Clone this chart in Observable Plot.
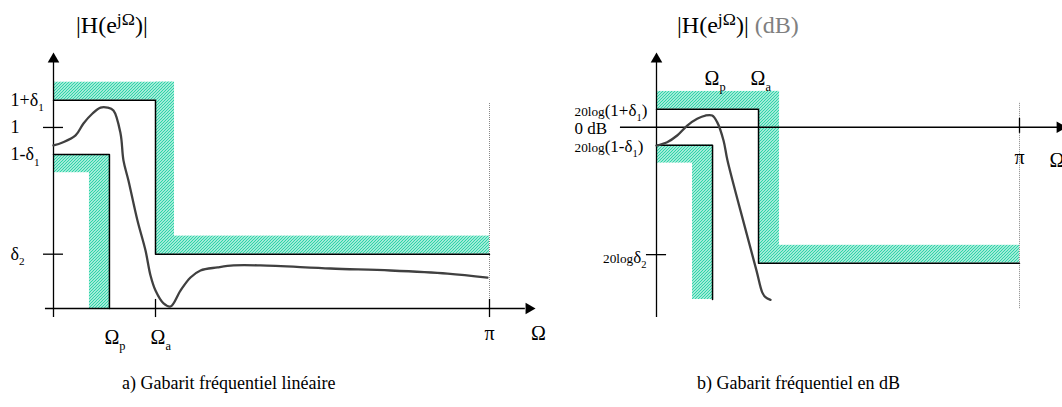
<!DOCTYPE html>
<html><head><meta charset="utf-8">
<script src="https://cdn.jsdelivr.net/npm/d3@7"></script>
<script src="https://cdn.jsdelivr.net/npm/@observablehq/plot@0.6"></script>
<style>
body{margin:0;background:#fff;font-family:"Liberation Serif","Times New Roman",Times,serif;color:#000}
#page{position:relative;width:1062px;height:407px;overflow:hidden}
.title{position:absolute;top:13px;font-size:24px;line-height:24px;white-space:nowrap}
.title sup{font-size:0.74em;line-height:0;vertical-align:0.45em}
.cap{position:absolute;top:372px;font-size:18px;line-height:22px;white-space:nowrap}
.plot{position:absolute;top:40px}
</style></head>
<body><div id="page">
<svg width="0" height="0" style="position:absolute;left:0;top:0"><defs>
<pattern id="hatch" patternUnits="userSpaceOnUse" width="3" height="3">
<rect width="3" height="3" fill="#ffffff"/>
<path d="M-1,1L1,-1M0,3L3,0M2,4L4,2" stroke="#2fd4a8" stroke-width="1.3"/>
</pattern></defs></svg>
<div class="title" style="left:76px">|H(e<sup>jΩ</sup>)|</div>
<div class="title" style="left:677px">|H(e<sup>jΩ</sup>)| <span style="color:#808080">(dB)</span></div>
<div id="left" class="plot" style="left:0"></div>
<div id="right" class="plot" style="left:531px"></div>
<div class="cap" style="left:122px">a) Gabarit fréquentiel linéaire</div>
<div class="cap" style="left:697px">b) Gabarit fréquentiel en dB</div>
</div>
<script>
const PI = Math.PI;

// ---------- (a) linear template ----------
const linOmegaP = 0.403, linOmegaA = 0.735;
const linUpper = 1.15, linOne = 1, linLower = 0.85, linStop = 0.3;
const linBandY = 0.1, linBandXa = 0.137, linBandXp = 0.144;
const linTickValues = [linUpper, linOne, linLower, linStop];
const linTickLabels = ["1+δ_1", "1", "1-δ_1", "δ_2"];
const linCurveOmega = [0, 0.065, 0.159, 0.216, 0.281, 0.339, 0.389, 0.432, 0.483, 0.504, 0.540, 0.605, 0.663, 0.699, 0.735, 0.793, 0.843, 0.915, 0.987, 1.059, 1.182, 1.297, 1.491, 1.996, 2.428, 2.839, 3.127];
const linCurveMag   = [0.901, 0.917, 0.956, 1.022, 1.077, 1.110, 1.110, 1.094, 0.967, 0.818, 0.707, 0.486, 0.320, 0.182, 0.099, 0.028, 0.011, 0.099, 0.171, 0.210, 0.227, 0.238, 0.238, 0.221, 0.210, 0.193, 0.171];
const linYTop = 1.414;

// ---------- (b) dB template ----------
const dbOmegaP = 0.485, dbOmegaA = 0.883;
const dbUpper = 5.3, dbZero = 0, dbLower = -5.3, dbStop = -40, dbStopTick = -37.5, dbFloor = -50.7;
const dbBandY = 5.25, dbBandXa = 0.182, dbBandXp = 0.173;
const dbTickValues = [dbUpper, dbZero, dbLower];
const dbTickLabels = ["{20log}(1+δ_1)", "0 dB", "{20log}(1-δ_1)"];
const dbCurveOmega = [0, 0.092, 0.179, 0.266, 0.352, 0.424, 0.482, 0.525, 0.580, 0.6145, 0.765, 0.8655, 0.915, 0.943, 0.987];
const dbCurveGain  = [-5.38, -4.4, -2.43, 0.5, 2.5, 3.45, 3.45, 1.5, -3.9, -9.8, -29.4, -42.2, -48.6, -50.0, -50.8];
const dbYDomain = [-56, 22];

const font = "Liberation Serif, Times New Roman, Times, serif";
const zip = (xs, ys) => xs.map((x, i) => ({x, y: ys[i]}));

function arrowUp(y, x0) {
  return Plot.dot([0], {x: x0, y, symbol: "triangle", r: 4.3, fill: "#000", stroke: "none", dy: 6.6});
}
function arrowRight(x, y0) {
  return Plot.dot([0], {x, y: y0, symbol: "triangle", r: 4.3, fill: "#000", stroke: "none", rotate: 90, dx: -6.6});
}

// ---------- left plot ----------
const linHatch = [
  {x1: 0, x2: linOmegaA + linBandXa, y1: linUpper, y2: linUpper + linBandY},
  {x1: linOmegaA, x2: linOmegaA + linBandXa, y1: linStop, y2: linUpper + linBandY},
  {x1: linOmegaA, x2: PI, y1: linStop, y2: linStop + linBandY},
  {x1: 0, x2: linOmegaP, y1: linLower - linBandY, y2: linLower},
  {x1: linOmegaP - linBandXp, x2: linOmegaP, y1: 0, y2: linLower}
];
const linUpperPath = zip([0, linOmegaA, linOmegaA, PI], [linUpper, linUpper, linStop, linStop]);
const linLowerPath = zip([0, linOmegaP, linOmegaP], [linLower, linLower, 0]);

const left = Plot.plot({
  width: 531, height: 325,
  marginLeft: 53, marginRight: 42, marginTop: 12, marginBottom: 57,
  x: {domain: [0, PI], axis: null},
  y: {domain: [0, linYTop], axis: null},
  style: {fontFamily: font, overflow: "visible", background: "transparent", color: "#000"},
  marks: [
    Plot.rect(linHatch, {x1: "x1", x2: "x2", y1: "y1", y2: "y2", fill: "url(#hatch)"}),
    Plot.ruleX([PI], {y1: 0, y2: 1.138, stroke: "#888", strokeWidth: 1, strokeDasharray: "1,1"}),
    Plot.line(linUpperPath, {x: "x", y: "y", stroke: "#000", strokeWidth: 1.5}),
    Plot.line(linLowerPath, {x: "x", y: "y", stroke: "#000", strokeWidth: 1.5}),
    Plot.ruleY([0], {x1: -0.058, x2: 3.40, stroke: "#000", strokeWidth: 1.3}),
    Plot.ruleX([0], {y1: -0.05, y2: 1.36, stroke: "#000", strokeWidth: 1.3}),
    arrowUp(linYTop, 0),
    arrowRight(3.473, 0),
    Plot.ruleY([linOne, linStop], {x1: -0.072, x2: 0.072, stroke: "#000", strokeWidth: 1.3}),
    Plot.ruleX([linOmegaA, PI], {y1: -0.05, y2: 0.05, stroke: "#000", strokeWidth: 1.3}),
    Plot.line(zip(linCurveOmega, linCurveMag), {x: "x", y: "y", curve: "catmull-rom", stroke: "#404040", strokeWidth: 2.3}),
    Plot.text(linTickValues, {x: 0, y: d => d, text: (d, i) => linTickLabels[i], textAnchor: "start", dx: -43, fontSize: 18, fill: "#000"}),
    Plot.text([linOmegaP, linOmegaA], {x: d => d, y: 0, text: ["Ω_p", "Ω_a"], textAnchor: "start", dx: -5, dy: 29, fontSize: 20, fill: "#000"}),
    Plot.text([PI], {x: d => d, y: 0, text: ["π"], dy: 25, fontSize: 20, fill: "#000"}),
    Plot.text([PI], {x: d => d, y: 0, text: ["Ω"], dx: 49, dy: 25, fontSize: 20, fill: "#000"})
  ]
});

// ---------- right plot ----------
const dbHatch = [
  {x1: 0, x2: dbOmegaA + dbBandXa, y1: dbUpper, y2: dbUpper + dbBandY},
  {x1: dbOmegaA, x2: dbOmegaA + dbBandXa, y1: dbStop, y2: dbUpper + dbBandY},
  {x1: dbOmegaA, x2: PI, y1: dbStop, y2: dbStop + dbBandY},
  {x1: 0, x2: dbOmegaP, y1: dbLower - dbBandY, y2: dbLower},
  {x1: dbOmegaP - dbBandXp, x2: dbOmegaP, y1: dbFloor, y2: dbLower}
];
const dbUpperPath = zip([0, dbOmegaA, dbOmegaA, PI], [dbUpper, dbUpper, dbStop, dbStop]);
const dbLowerPath = zip([0, dbOmegaP, dbOmegaP], [dbLower, dbLower, dbFloor]);

const right = Plot.plot({
  width: 531, height: 325,
  marginLeft: 125, marginRight: 43, marginTop: 12, marginBottom: 48,
  x: {domain: [0, PI], axis: null},
  y: {domain: dbYDomain, axis: null},
  style: {fontFamily: font, overflow: "visible", background: "transparent", color: "#000"},
  marks: [
    Plot.rect(dbHatch, {x1: "x1", x2: "x2", y1: "y1", y2: "y2", fill: "url(#hatch)"}),
    Plot.ruleX([PI], {y1: -53.4, y2: 7.3, stroke: "#888", strokeWidth: 1, strokeDasharray: "1,1"}),
    Plot.line(dbUpperPath, {x: "x", y: "y", stroke: "#000", strokeWidth: 1.5}),
    Plot.line(dbLowerPath, {x: "x", y: "y", stroke: "#000", strokeWidth: 1.5}),
    Plot.ruleY([dbZero], {x1: -0.312, x2: 3.50, stroke: "#000", strokeWidth: 1.3}),
    Plot.ruleX([0], {y1: dbYDomain[0], y2: 20, stroke: "#000", strokeWidth: 1.3}),
    arrowUp(dbYDomain[1], 0),
    arrowRight(3.549, dbZero),
    Plot.ruleY([dbStopTick], {x1: -0.087, x2: 0.087, stroke: "#000", strokeWidth: 1.3}),
    Plot.ruleX([PI], {y1: -1.8, y2: 2.6, stroke: "#000", strokeWidth: 1.3}),
    Plot.line(zip(dbCurveOmega, dbCurveGain), {x: "x", y: "y", curve: "catmull-rom", stroke: "#404040", strokeWidth: 2.3}),
    Plot.text(dbTickValues, {x: 0, y: d => d, text: (d, i) => dbTickLabels[i], textAnchor: "start", dx: -82, dy: 1, fontSize: 17, fill: "#000"}),
    Plot.text([dbStopTick], {x: 0, y: d => d, text: ["{20log}δ_2"], textAnchor: "end", dx: -10, dy: 3, fontSize: 17, fill: "#000"}),
    Plot.text([dbOmegaP, dbOmegaA], {x: d => d, y: dbUpper + dbBandY, text: ["Ω_p", "Ω_a"], textAnchor: "start", dx: -8, dy: -13, fontSize: 20, fill: "#000"}),
    Plot.text([PI], {x: d => d, y: dbZero, text: ["π"], dy: 30, fontSize: 20, fill: "#000"}),
    Plot.text([PI], {x: d => d, y: dbZero, text: ["Ω"], textAnchor: "start", dx: 30, dy: 33, fontSize: 20, fill: "#000"})
  ]
});

document.getElementById("left").appendChild(left);
document.getElementById("right").appendChild(right);

// rich text: _c = subscript char, {..} = smaller run
function richify(root) {
  root.querySelectorAll("text").forEach(t => {
    const s = t.textContent;
    if (!/[_{]/.test(s)) return;
    const fs = parseFloat(getComputedStyle(t).fontSize) || 16;
    while (t.firstChild) t.removeChild(t.firstChild);
    let shift = 0;
    const re = /_(.)|\{([^}]*)\}|([^_{]+)/g;
    let m;
    while ((m = re.exec(s))) {
      const sp = document.createElementNS("http://www.w3.org/2000/svg", "tspan");
      let target = 0, size = null;
      if (m[1]) { sp.textContent = m[1]; size = fs * 0.62; target = fs * 0.3; }
      else if (m[2]) { sp.textContent = m[2]; size = fs * 0.78; }
      else { sp.textContent = m[3]; }
      if (size) sp.setAttribute("font-size", size);
      const d = target - shift;
      if (d) sp.setAttribute("dy", d);
      shift = target;
      t.appendChild(sp);
    }
  });
}
richify(left);
richify(right);
</script>
</body></html>
